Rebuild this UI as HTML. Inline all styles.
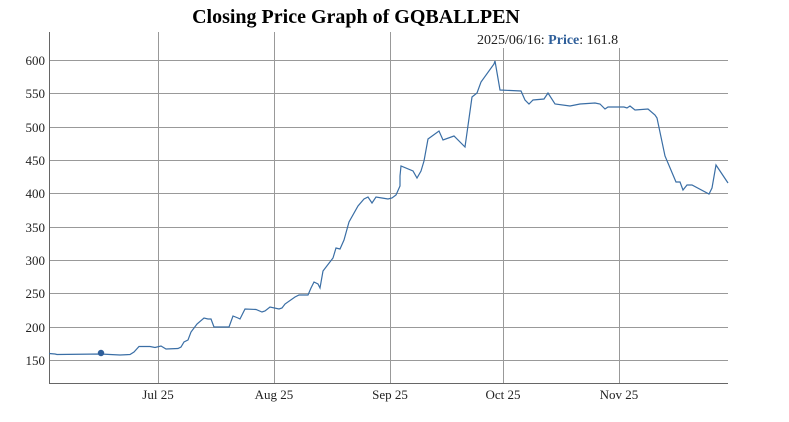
<!DOCTYPE html>
<html><head><meta charset="utf-8"><style>
html,body{margin:0;padding:0;background:#fff;}
svg{display:block;font-family:"Liberation Serif",serif;}
</style></head><body>
<svg width="789" height="422" xmlns="http://www.w3.org/2000/svg">
<text x="356" y="23" text-anchor="middle" font-size="20" font-weight="bold">Closing Price Graph of GQBALLPEN</text>
<g stroke="#999" stroke-width="1" fill="none">
<line x1="49" y1="60.5" x2="728" y2="60.5"/>
<line x1="49" y1="93.5" x2="728" y2="93.5"/>
<line x1="49" y1="127.5" x2="728" y2="127.5"/>
<line x1="49" y1="160.5" x2="728" y2="160.5"/>
<line x1="49" y1="193.5" x2="728" y2="193.5"/>
<line x1="49" y1="227.5" x2="728" y2="227.5"/>
<line x1="49" y1="260.5" x2="728" y2="260.5"/>
<line x1="49" y1="293.5" x2="728" y2="293.5"/>
<line x1="49" y1="327.5" x2="728" y2="327.5"/>
<line x1="49" y1="360.5" x2="728" y2="360.5"/>
<line x1="158.5" y1="32" x2="158.5" y2="383"/>
<line x1="274.5" y1="32" x2="274.5" y2="383"/>
<line x1="390.5" y1="32" x2="390.5" y2="383"/>
<line x1="503.5" y1="48" x2="503.5" y2="383"/>
<line x1="619.5" y1="48" x2="619.5" y2="383"/>
</g>
<g stroke="#666" stroke-width="1">
<line x1="49.5" y1="32" x2="49.5" y2="383.5"/>
<line x1="49" y1="383.5" x2="728" y2="383.5"/>
</g>
<g font-size="13" fill="#222" text-anchor="end">
<text x="45" y="65">600</text><text x="45" y="98">550</text><text x="45" y="132">500</text>
<text x="45" y="165">450</text><text x="45" y="198">400</text><text x="45" y="232">350</text>
<text x="45" y="265">300</text><text x="45" y="298">250</text><text x="45" y="332">200</text>
<text x="45" y="365">150</text>
</g>
<g font-size="13" fill="#222" text-anchor="middle">
<text x="158" y="399">Jul 25</text><text x="274" y="399">Aug 25</text><text x="390" y="399">Sep 25</text>
<text x="503" y="399">Oct 25</text><text x="619" y="399">Nov 25</text>
</g>
<text x="477" y="44" font-size="14" fill="#222">2025/06/16: <tspan fill="#2f5f9a" font-weight="bold">Price</tspan>: 161.8</text>
<polyline fill="none" stroke="#3a6ea5" stroke-width="1.2" points="49,353.5 55,354 57,354.5 101,354 110,354.5 120,355 130,354.5 134,352 139,346.5 150,346.5 155,347.5 161,346 166,349 178,348.5 181,347 184,342 188,340 191,332 197,324 204,318 208,319 211,319 214,327 229,327 233,316 238,318 240,319 245,309 256,309.5 262,312 265,311 270,307 279,309 282,308 285,304 295,297 299,295 308,295 311,288 314,282 318,284 320,288 323,271 333,258 336,248 340,249 344,240 349,222 358,206 364,199 368,197 372,203 376,197 382,198 388,199 392,198 396,195 400,186 400,176 401,166 413,171 417,178 421,171 424,161 428,139 439,131 443,140 454,136 465,147 472,97 477,93 481,82 494,64 495,61 500,90 521,91 525,100 529,104 533,100 544,99 548,93 555,104 570,106 575,105 580,104 595,103 600,104 605,109 608,107 624,107 627,108 630,106 635,110 648,109 655,115 657,118 665,156 676,182 680,182 683,190 687,185 692,185 709,194 712,188 716,165 728,183"/>
<circle cx="101" cy="353" r="3.2" fill="#2f5f9a"/>
</svg>
</body></html>
